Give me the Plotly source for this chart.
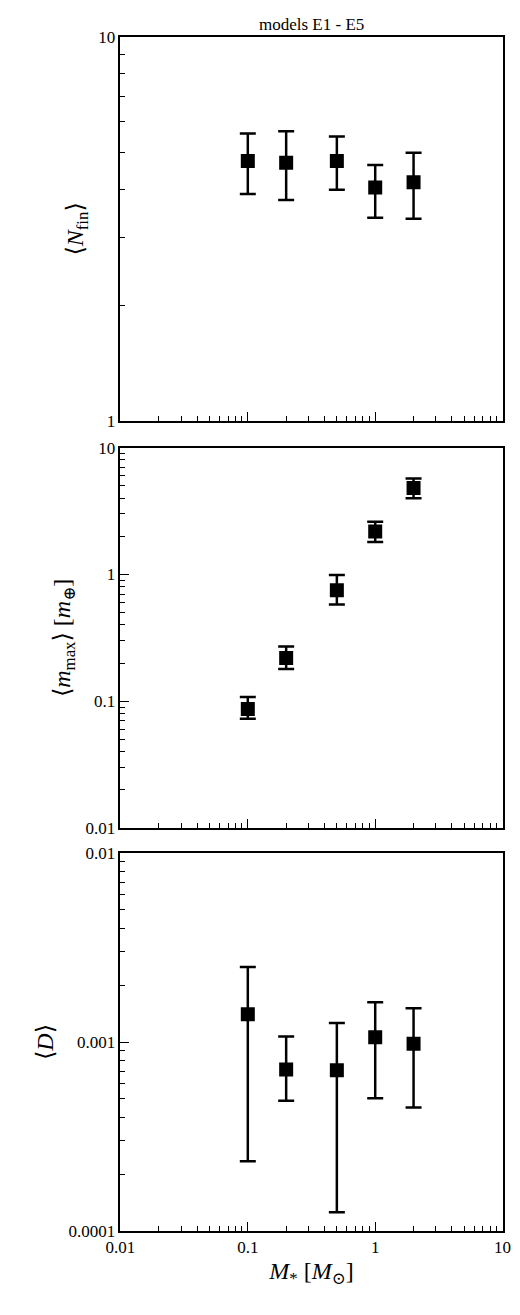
import plotly.graph_objects as go

mstar = [0.1, 0.2, 0.5, 1.0, 2.0]

nfin = [4.75, 4.7, 4.75, 4.05, 4.18]
nfin_hi = [5.6, 5.68, 5.5, 4.64, 4.99]
nfin_lo = [3.9, 3.76, 4.0, 3.38, 3.36]

mmax = [0.087, 0.22, 0.75, 2.18, 4.8]
mmax_hi = [0.108, 0.27, 0.99, 2.6, 5.7]
mmax_lo = [0.073, 0.18, 0.58, 1.8, 4.0]

dval = [0.0014, 0.000715, 0.00071, 0.00106, 0.00098]
dval_hi = [0.00249, 0.00107, 0.00126, 0.00162, 0.00151]
dval_lo = [0.000234, 0.00049, 0.000126, 0.000505, 0.00045]

FONT = "Liberation Serif, DejaVu Serif, serif"
fig = go.Figure()

panels = [
    (nfin, nfin_hi, nfin_lo, "", [0.6882, 0.9848], [0, 1], "⟨<i>N</i><sub>fin</sub>⟩", [1, 10]),
    (mmax, mmax_hi, mmax_lo, "2", [0.3741, 0.6677], [-2, 1], "⟨<i>m</i><sub>max</sub>⟩ [<i>m</i><sub>⊕</sub>]", [0.01, 0.1, 1, 10]),
    (dval, dval_hi, dval_lo, "3", [0.0631, 0.3551], [-4, -2], "⟨<i>D</i>⟩", [0.0001, 0.001, 0.01]),
]

for y, hi, lo, ax, dom, rng, title, tv in panels:
    fig.add_trace(go.Scatter(
        x=mstar, y=y, mode="markers", xaxis="x" + ax, yaxis="y" + ax,
        marker=dict(symbol="square", size=14, color="black"),
        error_y=dict(type="data", symmetric=False,
                     array=[h - v for h, v in zip(hi, y)],
                     arrayminus=[v - l for v, l in zip(y, lo)],
                     color="black", thickness=2.5, width=8),
        showlegend=False))
    common = dict(type="log", showline=True, linecolor="black", linewidth=1.5,
                  mirror=True, ticks="inside", ticklen=9, tickwidth=1.2,
                  tickcolor="black", showgrid=False, zeroline=False,
                  minor=dict(ticks="inside", ticklen=5, tickcolor="black",
                             dtick="D1", showgrid=False),
                  tickfont=dict(family=FONT, size=17, color="black"))
    fig.layout["xaxis" + ax] = dict(common, domain=[0.196, 0.965], range=[-2, 1],
                                    anchor="y" + ax, tickvals=[0.01, 0.1, 1, 10],
                                    ticktext=["0.01", "0.1", "1", "10"],
                                    showticklabels=(ax == "3"))
    fig.layout["yaxis" + ax] = dict(common, domain=dom, range=rng, anchor="x" + ax,
                                    tickvals=tv, ticktext=[f"{v:g}" if v >= 0.001 else "0.0001" for v in tv],
                                    title=dict(text=title, font=dict(family=FONT, size=24, color="black"), standoff=8))

fig.layout.xaxis3.title = dict(text="<i>M</i><sub>*</sub> [<i>M</i><sub>⊙</sub>]",
                               font=dict(family=FONT, size=24, color="black"), standoff=6)

fig.add_annotation(text="models E1 - E5", x=0.58, y=0.9848, xref="paper", yref="paper",
                   xanchor="center", yanchor="bottom", yshift=1, showarrow=False,
                   font=dict(family=FONT, size=17, color="black"))

fig.update_layout(width=520, height=1315, margin=dict(l=0, r=0, t=0, b=0),
                  paper_bgcolor="white", plot_bgcolor="white")

fig.write_html("out.html")
